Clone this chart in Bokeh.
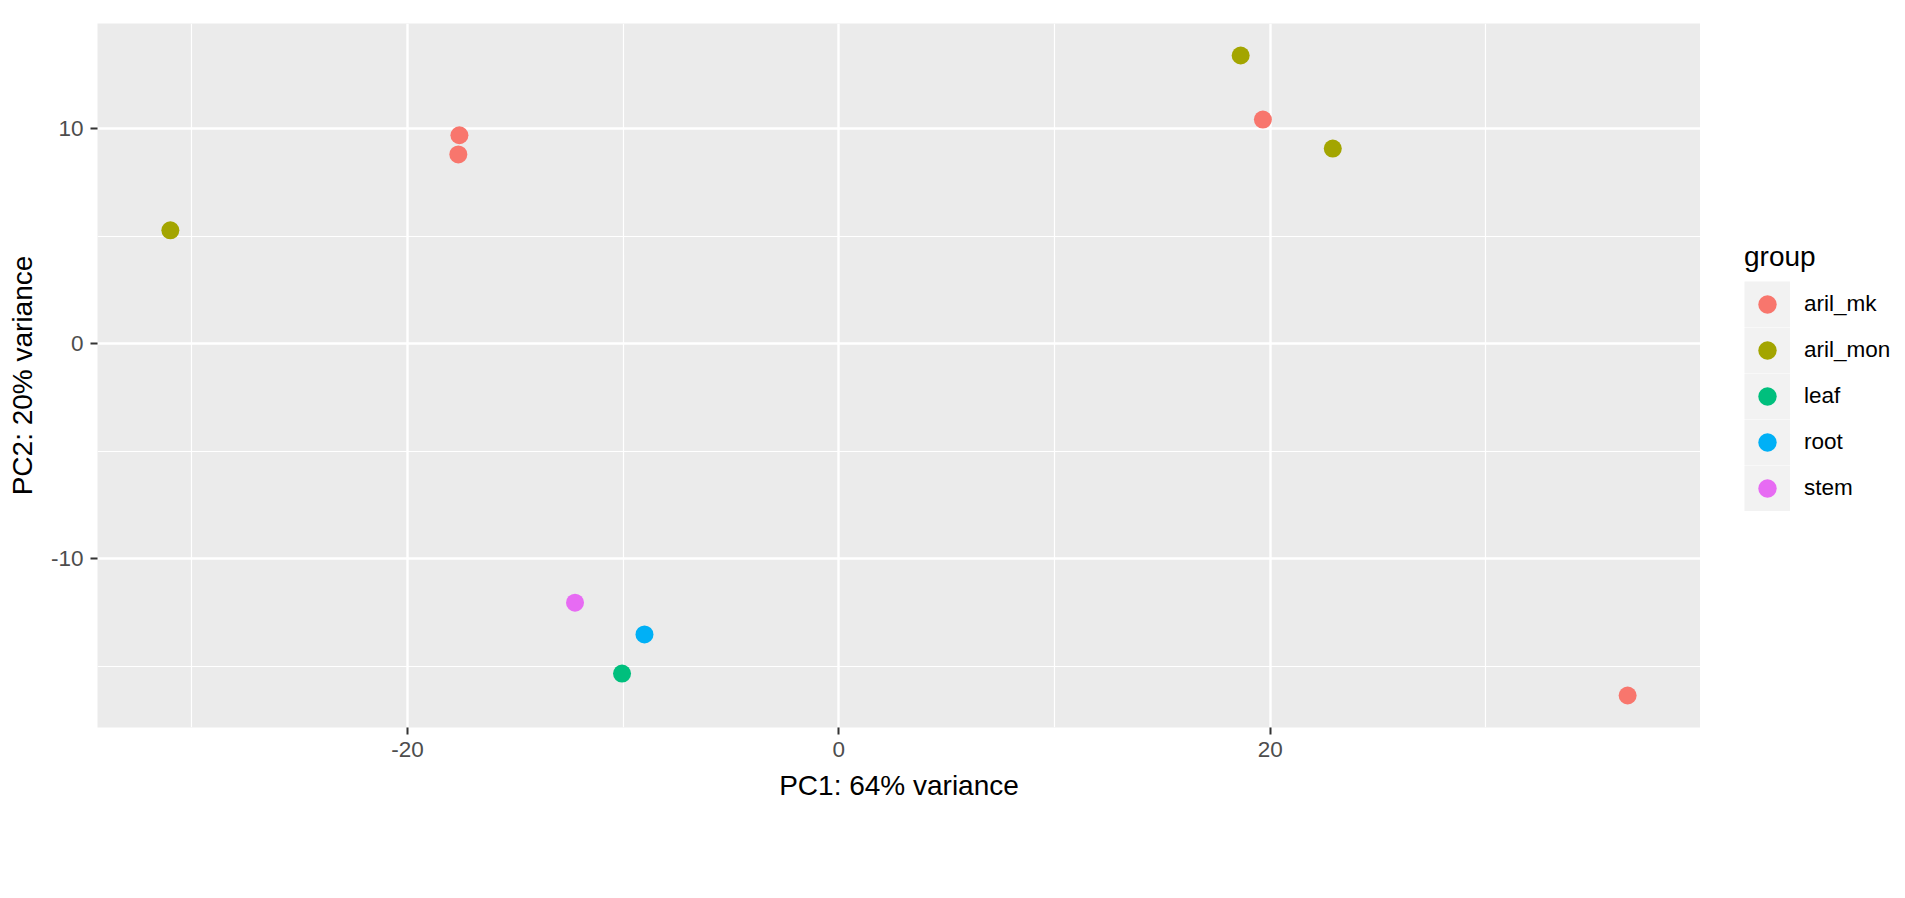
from bokeh.plotting import figure
from bokeh.layouts import row
from bokeh.models import (Range1d, FixedTicker, Legend, LegendItem, CustomJSTickFormatter)
from bokeh.embed import file_html
from bokeh.resources import INLINE

# ---- data ----
groups = ["aril_mk", "aril_mon", "leaf", "root", "stem"]
colors = ["#F8766D", "#A3A500", "#00BF7D", "#00B0F6", "#E76BF3"]
pc1_aril_mk = [-17.59, -17.64, 19.66, 36.57]
pc2_aril_mk = [9.69, 8.80, 10.42, -16.37]
pc1_aril_mon = [-30.99, 18.63, 22.90]
pc2_aril_mon = [5.27, 13.40, 9.07]
pc1_leaf = [-10.05]
pc2_leaf = [-15.35]
pc1_root = [-9.01]
pc2_root = [-13.53]
pc1_stem = [-12.23]
pc2_stem = [-12.05]
x_ticks = [-20, 0, 20]
x_minor = [-30, -10, 10, 30]
y_ticks = [-10, 0, 10]
y_minor = [-15, -5, 5, 15]
x_title = "PC1: 64% variance"
y_title = "PC2: 20% variance"
legend_title = "group"

series = {
    "aril_mk": (pc1_aril_mk, pc2_aril_mk),
    "aril_mon": (pc1_aril_mon, pc2_aril_mon),
    "leaf": (pc1_leaf, pc2_leaf),
    "root": (pc1_root, pc2_root),
    "stem": (pc1_stem, pc2_stem),
}

allx = sum([v[0] for v in series.values()], [])
ally = sum([v[1] for v in series.values()], [])
def expand(vals, mult=0.05):
    lo, hi = min(vals), max(vals)
    d = (hi - lo) * mult
    return lo - d, hi + d

xr = expand(allx)
yr = expand(ally)

FONT = "Liberation Sans"

# ---- main panel ----
p = figure(width=1700, height=898, output_backend="svg", toolbar_location=None,
           x_range=Range1d(*xr), y_range=Range1d(*yr),
           min_border_left=97, min_border_right=0, min_border_top=23, min_border_bottom=171)
p.background_fill_color = "#EBEBEB"
p.border_fill_color = "white"
p.outline_line_color = None

p.xgrid.ticker = FixedTicker(ticks=x_ticks, minor_ticks=x_minor)
p.ygrid.ticker = FixedTicker(ticks=y_ticks, minor_ticks=y_minor)
for g in (p.xgrid, p.ygrid):
    g.grid_line_color = "white"
    g.grid_line_width = 2.4
    g.minor_grid_line_color = "white"
    g.minor_grid_line_width = 1.2

p.xaxis.ticker = FixedTicker(ticks=x_ticks)
p.yaxis.ticker = FixedTicker(ticks=y_ticks)
p.xaxis.axis_label = x_title
p.yaxis.axis_label = y_title
for ax in (p.xaxis, p.yaxis):
    ax.formatter = CustomJSTickFormatter(code="return String(tick)")
    ax.axis_line_color = None
    ax.major_tick_line_color = "#333333"
    ax.major_tick_line_width = 2
    ax.major_tick_out = 7
    ax.major_tick_in = 0
    ax.minor_tick_line_color = None
    ax.major_label_text_font = FONT
    ax.major_label_text_font_size = "22.5px"
    ax.major_label_text_color = "#4D4D4D"
    ax.major_label_standoff = 7
    ax.axis_label_text_font = FONT
    ax.axis_label_text_font_size = "28px"
    ax.axis_label_text_font_style = "normal"
    ax.axis_label_text_color = "black"
    ax.axis_label_standoff = 10

for g, c in zip(groups, colors):
    xs, ys = series[g]
    p.scatter(x=xs, y=ys, size=18, fill_color=c, line_color=None)

# ---- legend column (its own plot; its glyphs sit outside its visible ranges) ----
q = figure(width=205, height=898, output_backend="svg", toolbar_location=None,
           x_range=Range1d(1000, 1001), y_range=Range1d(1000, 1001),
           min_border_left=0, min_border_right=0, min_border_top=23, min_border_bottom=171)
q.axis.visible = False
q.grid.visible = False
q.outline_line_color = None
q.background_fill_color = "white"
q.border_fill_color = "white"

items = []
for g, c in zip(groups, colors):
    xs, ys = series[g]
    bg = q.line(x=xs, y=ys, line_width=46, line_color="#F2F2F2", line_cap="butt")
    r = q.scatter(x=xs, y=ys, size=18, fill_color=c, line_color=None)
    items.append(LegendItem(label=g, renderers=[bg, r]))

legend = Legend(items=items, location=(44, 727 - 511),
                title=legend_title, title_text_font=FONT, title_text_font_size="28px",
                title_text_font_style="normal", title_text_color="black", title_standoff=8,
                label_text_font=FONT, label_text_font_size="22.5px", label_text_color="black",
                glyph_width=46, glyph_height=46, label_standoff=14, spacing=0,
                padding=0, margin=0, border_line_color=None, background_fill_alpha=0)
q.add_layout(legend, "center")

layout = row(p, q, spacing=0)
open("out.html", "w").write(file_html(layout, INLINE))
